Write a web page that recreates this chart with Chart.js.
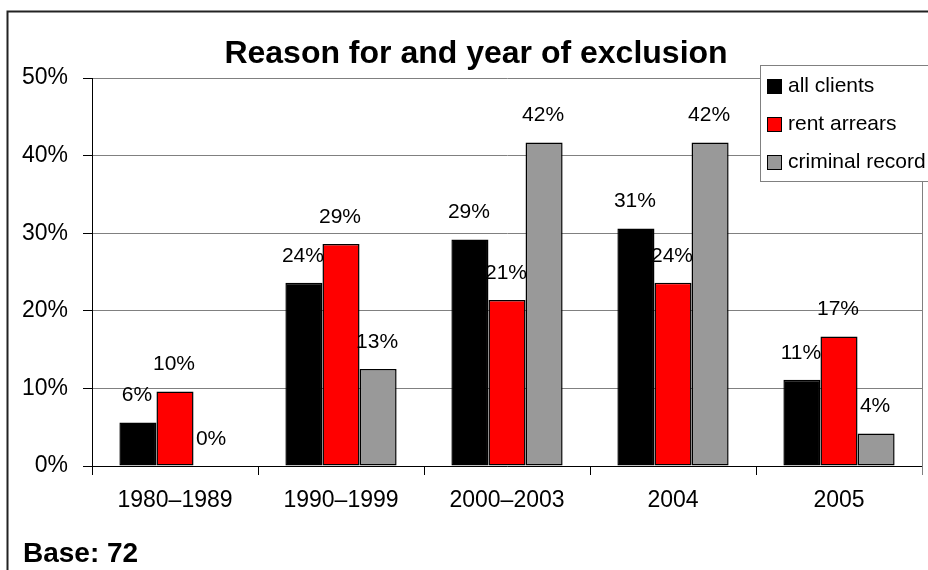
<!DOCTYPE html>
<html>
<head>
<meta charset="utf-8">
<title>Reason for and year of exclusion</title>
<script src="https://cdn.jsdelivr.net/npm/chart.js@4.4.1/dist/chart.umd.min.js"></script>
<style>
  html, body { margin: 0; padding: 0; background: #fff; }
  canvas { display: block; }
</style>
</head>
<body>
<canvas id="exclusionChart" width="928" height="570"></canvas>
<script>
const periods = ["1980–1989", "1990–1999", "2000–2003", "2004", "2005"];
const allClients = [5.6, 23.6, 29.2, 30.6, 11.1];
const rentArrears = [9.6, 28.6, 21.4, 23.6, 16.7];
const criminalRecord = [0, 12.5, 41.7, 41.7, 4.2];
const yTicks = [0, 10, 20, 30, 40, 50];

const FONT = "'Liberation Sans', Arial, sans-serif";

// value labels over each bar, plus title, legend box, frame and base note
const decorPlugin = {
  id: "decor",
  afterDatasetsDraw(chart) {
    const ctx = chart.ctx;
    const area = chart.chartArea;
    ctx.save();
    // right edge of the plot area
    ctx.strokeStyle = "#808080";
    ctx.lineWidth = 1;
    ctx.beginPath();
    ctx.moveTo(area.right + 0.5, area.top);
    ctx.lineTo(area.right + 0.5, area.bottom + 9);
    ctx.stroke();

    ctx.fillStyle = "#000";
    ctx.font = "21px " + FONT;
    ctx.textAlign = "center";
    ctx.textBaseline = "middle";
    chart.data.datasets.forEach((ds, i) => {
      chart.getDatasetMeta(i).data.forEach((bar, j) => {
        ctx.fillText(Math.round(ds.data[j]) + "%", bar.x - 1, bar.y - 27);
      });
    });
    ctx.restore();
  },
  afterDraw(chart) {
    const ctx = chart.ctx;
    ctx.save();

    // legend box
    ctx.fillStyle = "#fff";
    ctx.fillRect(760, 65.5, 200, 116);
    ctx.strokeStyle = "#808080";
    ctx.lineWidth = 1;
    ctx.strokeRect(760.5, 65.5, 200, 116);
    const rows = [86, 124, 162];
    chart.data.datasets.forEach((ds, i) => {
      ctx.fillStyle = ds.backgroundColor;
      ctx.fillRect(767, rows[i] - 7, 15, 15);
      ctx.strokeStyle = "#000";
      ctx.strokeRect(767.5, rows[i] - 6.5, 14, 14);
      ctx.fillStyle = "#000";
      ctx.font = "21px " + FONT;
      ctx.textAlign = "left";
      ctx.textBaseline = "middle";
      ctx.fillText(ds.label, 788, rows[i]);
    });

    // title
    ctx.font = "bold 32px " + FONT;
    ctx.textAlign = "center";
    ctx.textBaseline = "alphabetic";
    ctx.fillText("Reason for and year of exclusion", 476, 63);

    // base note
    ctx.font = "bold 28px " + FONT;
    ctx.textAlign = "left";
    ctx.fillText("Base: 72", 23, 562);

    // outer frame
    ctx.strokeStyle = "#222";
    ctx.lineWidth = 2;
    ctx.beginPath();
    ctx.moveTo(7.5, 575);
    ctx.lineTo(7.5, 11.5);
    ctx.lineTo(935, 11.5);
    ctx.stroke();
    ctx.restore();
  }
};

new Chart(document.getElementById("exclusionChart"), {
  type: "bar",
  data: {
    labels: periods,
    datasets: [
      { label: "all clients", data: allClients, backgroundColor: "#000000" },
      { label: "rent arrears", data: rentArrears, backgroundColor: "#ff0000" },
      { label: "criminal record", data: criminalRecord, backgroundColor: "#999999" }
    ].map(d => Object.assign(d, {
      borderColor: "#000",
      borderWidth: 1.5,
      borderSkipped: false,
      categoryPercentage: 0.67,
      barPercentage: 1.0
    }))
  },
  options: {
    responsive: false,
    devicePixelRatio: 1,
    animation: false,
    layout: { padding: { top: 78, left: 0, right: 6, bottom: 0 } },
    plugins: {
      legend: { display: false },
      title: { display: false },
      tooltip: { enabled: false }
    },
    scales: {
      x: {
        afterFit: s => { s.height = 104; },
        grid: {
          drawOnChartArea: false,
          drawTicks: true,
          tickLength: 9,
          tickColor: "#000",
          offset: true
        },
        border: { color: "#000", width: 1 },
        ticks: {
          color: "#000",
          padding: 12,
          font: { family: FONT, size: 23 }
        }
      },
      y: {
        min: 0,
        max: 50,
        afterFit: s => { s.width = 92; },
        afterBuildTicks: s => { s.ticks = yTicks.map(v => ({ value: v })); },
        grid: {
          color: "#808080",
          lineWidth: 1,
          tickLength: 9,
          tickColor: "#000"
        },
        border: { color: "#000", width: 1 },
        ticks: {
          color: "#000",
          padding: 15,
          font: { family: FONT, size: 23 },
          callback: v => v + "%"
        }
      }
    }
  },
  plugins: [decorPlugin]
});
</script>
</body>
</html>
